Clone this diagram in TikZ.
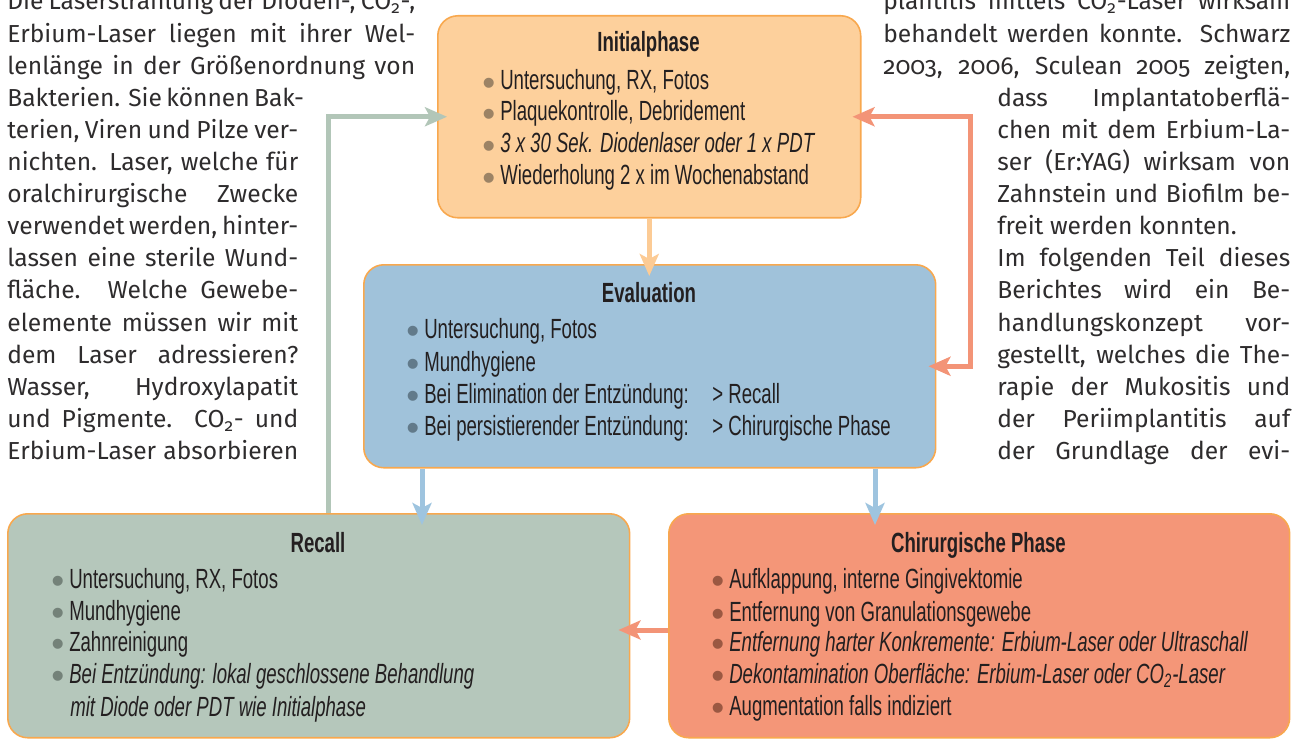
\documentclass[tikz,border=0pt]{standalone}
\usepackage{fontspec}
\usetikzlibrary{arrows.meta,positioning}
\setmainfont{Liberation Sans}
\newfontfamily\boxfont[FakeStretch=0.67]{Liberation Sans}
\newfontfamily\dotfont{Liberation Sans}
\newfontfamily\bodyfont[Numbers=OldStyle]{Fira Sans}

\definecolor{initfill}{HTML}{FDD09C}
\definecolor{evalfill}{HTML}{A0C2DA}
\definecolor{recfill}{HTML}{B5C7BB}
\definecolor{chirfill}{HTML}{F49678}
\definecolor{boxline}{HTML}{F8A84E}
\definecolor{boxtext}{HTML}{231F20}
\definecolor{bodytext}{HTML}{2E2C2D}
\definecolor{peach}{HTML}{FCCB95}
\definecolor{skyblue}{HTML}{9EC4DF}
\definecolor{sage}{HTML}{B2C6B8}
\definecolor{salmon}{HTML}{F39477}
\definecolor{bulInit}{HTML}{9C8365}
\definecolor{bulEval}{HTML}{627A8A}
\definecolor{bulRec}{HTML}{748279}
\definecolor{bulChir}{HTML}{9B5842}

% one justified line of the article text
\newcommand{\jline}[2]{\makebox[#1][s]{#2}}
% bullet in front of a list entry
\newcommand{\bul}[1]{{\dotfont\fontsize{21}{21}\selectfont\color{#1}\raisebox{-0.15em}{\textbullet}}\hspace{0.18em}}

\tikzset{
	phase/.style={draw=boxline, line width=0.9pt, rounded corners=0.4cm, inner sep=0pt, anchor=north west},
	ptitle/.style={font=\boxfont\bfseries\fontsize{15.8}{18}\selectfont, text=boxtext, anchor=base, inner sep=0pt},
	pitem/.style={font=\boxfont\fontsize{15.8}{18}\selectfont, text=boxtext, anchor=base west, inner sep=0pt},
	bodyline/.style={font=\bodyfont\fontsize{14}{17}\selectfont, text=bodytext, anchor=base west, inner sep=0pt},
	flow/.style={line width=0.1cm, -{Stealth[length=0.44cm,width=0.38cm,inset=0.1cm]}, shorten >=-0.24cm},
}

\begin{document}
\begin{tikzpicture}[x=0.02cm, y=-0.02cm]
	\clip (0,0) rectangle (1292,740);

	% article text, left column
	\node[bodyline] (l0) at (7,10) {\jline{8.16cm}{Die Laserstrahlung der Dioden-, CO\textsubscript{2}-,}};
	\node[bodyline] (l1) at (7,42.1) {\jline{8.16cm}{Erbium-Laser liegen mit ihrer Wel-}};
	\node[bodyline] (l2) at (7,74.2) {\jline{8.16cm}{lenlänge in der Größenordnung von}};
	\node[bodyline] (l3) at (7,106.3) {\jline{5.82cm}{Bakterien. Sie können Bak-}};
	\node[bodyline] (l4) at (7,138.4) {\jline{5.82cm}{terien, Viren und Pilze ver-}};
	\node[bodyline] (l5) at (7,170.5) {\jline{5.82cm}{nichten. Laser, welche für}};
	\node[bodyline] (l6) at (7,202.6) {\jline{5.82cm}{oralchirurgische Zwecke}};
	\node[bodyline] (l7) at (7,234.7) {\jline{5.82cm}{verwendet werden, hinter-}};
	\node[bodyline] (l8) at (7,266.8) {\jline{5.82cm}{lassen eine sterile Wund-}};
	\node[bodyline] (l9) at (7,298.9) {\jline{5.82cm}{fläche. Welche Gewebe-}};
	\node[bodyline] (l10) at (7,331) {\jline{5.82cm}{elemente müssen wir mit}};
	\node[bodyline] (l11) at (7,363.1) {\jline{5.82cm}{dem Laser adressieren?}};
	\node[bodyline] (l12) at (7,395.2) {\jline{5.82cm}{Wasser, Hydroxylapatit}};
	\node[bodyline] (l13) at (7,427.3) {\jline{5.82cm}{und Pigmente. CO\textsubscript{2}- und}};
	\node[bodyline] (l14) at (7,459.4) {\jline{5.82cm}{Erbium-Laser absorbieren}};

	% article text, right column
	\node[bodyline] (r0) at (883,10) {\jline{8.14cm}{plantitis mittels CO\textsubscript{2}-Laser wirksam}};
	\node[bodyline] (r1) at (883,42.1) {\jline{8.14cm}{behandelt werden konnte. Schwarz}};
	\node[bodyline] (r2) at (883,74.2) {\jline{8.14cm}{2003, 2006, Sculean 2005 zeigten,}};
	\node[bodyline] (r3) at (997,106.3) {\jline{5.86cm}{dass Implantatoberflä-}};
	\node[bodyline] (r4) at (997,138.4) {\jline{5.86cm}{chen mit dem Erbium-La-}};
	\node[bodyline] (r5) at (997,170.5) {\jline{5.86cm}{ser (Er:YAG) wirksam von}};
	\node[bodyline] (r6) at (997,202.6) {\jline{5.86cm}{Zahnstein und Biofilm be-}};
	\node[bodyline] (r7) at (997,234.7) {freit werden konnten.};
	\node[bodyline] (r8) at (997,266.8) {\jline{5.86cm}{Im folgenden Teil dieses}};
	\node[bodyline] (r9) at (997,298.9) {\jline{5.86cm}{Berichtes wird ein Be-}};
	\node[bodyline] (r10) at (997,331) {\jline{5.86cm}{handlungskonzept vor-}};
	\node[bodyline] (r11) at (997,363.1) {\jline{5.86cm}{gestellt, welches die The-}};
	\node[bodyline] (r12) at (997,395.2) {\jline{5.86cm}{rapie der Mukositis und}};
	\node[bodyline] (r13) at (997,427.3) {\jline{5.86cm}{der Periimplantitis auf}};
	\node[bodyline] (r14) at (997,459.4) {\jline{5.86cm}{der Grundlage der evi-}};

	% the four phases
	\node[phase, fill=initfill, minimum width=8.46cm, minimum height=4.04cm] (init) at (437,15) {};
	\node[phase, fill=evalfill, minimum width=11.44cm, minimum height=4.06cm] (eval) at (363,264) {};
	\node[phase, fill=recfill, minimum width=12.44cm, minimum height=4.48cm] (recall) at (7,513) {};
	\node[phase, fill=chirfill, minimum width=12.42cm, minimum height=4.48cm] (chir) at (668,513) {};

	\node[ptitle] (initT) at (648.5,52) {Initialphase};
	\node[pitem] (init1) at (482,90) {\bul{bulInit}Untersuchung, RX, Fotos};
	\node[pitem] (init2) at (482,121) {\bul{bulInit}Plaquekontrolle, Debridement};
	\node[pitem] (init3) at (482,153) {\bul{bulInit}\textit{3 x 30 Sek. Diodenlaser oder 1 x PDT}};
	\node[pitem] (init4) at (482,185) {\bul{bulInit}Wiederholung 2 x im Wochenabstand};

	\node[ptitle] (evalT) at (649,302) {Evaluation};
	\node[pitem] (eval1) at (406,338) {\bul{bulEval}Untersuchung, Fotos};
	\node[pitem] (eval2) at (406,371) {\bul{bulEval}Mundhygiene};
	\node[pitem] (eval3) at (406,403) {\bul{bulEval}Bei Elimination der Entzündung:};
	\node[pitem] (eval4) at (406,435) {\bul{bulEval}Bei persistierender Entzündung:};
	\node[pitem] (eval3b) at (712,403) {> Recall};
	\node[pitem] (eval4b) at (712,435) {> Chirurgische Phase};

	\node[ptitle] (recT) at (318,552) {Recall};
	\node[pitem] (rec1) at (51,588) {\bul{bulRec}Untersuchung, RX, Fotos};
	\node[pitem] (rec2) at (51,620) {\bul{bulRec}Mundhygiene};
	\node[pitem] (rec3) at (51,651) {\bul{bulRec}Zahnreinigung};
	\node[pitem] (rec4) at (51,683) {\bul{bulRec}\textit{Bei Entzündung: lokal geschlossene Behandlung}};
	\node[pitem] (rec5) at (70,716) {\textit{mit Diode oder PDT wie Initialphase}};

	\node[ptitle] (chirT) at (978.5,552) {Chirurgische Phase};
	\node[pitem] (chir1) at (711,588) {\bul{bulChir}Aufklappung, interne Gingivektomie};
	\node[pitem] (chir2) at (711,621) {\bul{bulChir}Entfernung von Granulationsgewebe};
	\node[pitem] (chir3) at (711,651) {\bul{bulChir}\textit{Entfernung harter Konkremente: Erbium-Laser oder Ultraschall}};
	\node[pitem] (chir4) at (711,683) {\bul{bulChir}\textit{Dekontamination Oberfläche: Erbium-Laser oder CO\textsubscript{2}-Laser}};
	\node[pitem] (chir5) at (711,715) {\bul{bulChir}Augmentation falls indiziert};

	% connectors
	\coordinate (gk) at (328,0);
	\coordinate (bk1) at (422,0);
	\coordinate (bk2) at (875,0);
	\coordinate (rk) at (0,630);
	\coordinate (rx) at (970,0);
	\draw[flow, peach] (init.south) -- (init.south |- eval.north);
	\draw[flow, skyblue] (eval.south -| bk1) -- (recall.north -| bk1);
	\draw[flow, skyblue] (eval.south -| bk2) -- (chir.north -| bk2);
	\draw[flow, salmon] (chir.west |- rk) -- (recall.east |- rk);
	\draw[flow, sage, shorten >=-0.2cm] (recall.north -| gk) |- (init.west);
	\draw[flow, salmon, {Stealth[length=0.44cm,width=0.38cm,inset=0.1cm]}-{Stealth[length=0.44cm,width=0.38cm,inset=0.1cm]},
		shorten <=-0.18cm, shorten >=-0.16cm] (init.east) -| (rx |- eval.east) -- (eval.east);
\end{tikzpicture}
\end{document}
